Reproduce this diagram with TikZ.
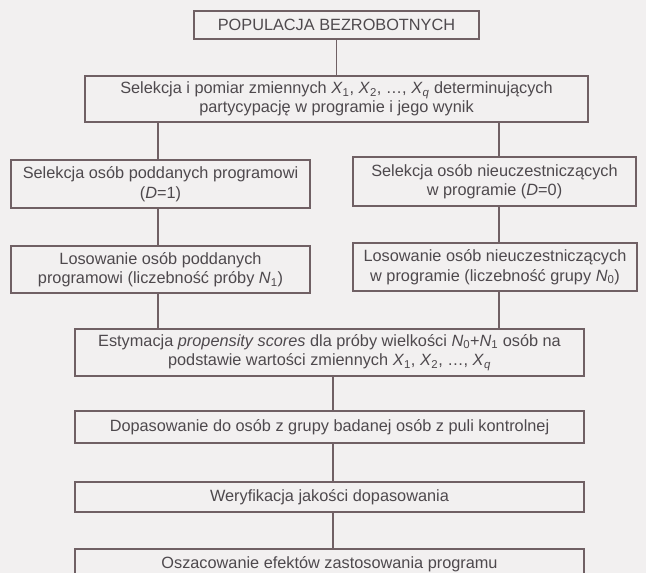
\documentclass[tikz,border=0pt]{standalone}
\usepackage{fontspec}
\setmainfont{Liberation Sans}
\usetikzlibrary{positioning}

\newcommand{\subvar}[2]{\textit{#1}\textsubscript{#2}}

\begin{document}
\begin{tikzpicture}[x=1pt, y=-1pt,
        every node/.style={font=\fontsize{16.3}{19.5}\selectfont},
        box/.style={draw=flowline, line width=1.1pt, text=flowtext, align=center, inner sep=0pt},
        link/.style={draw=flowline, line width=1.1pt}]
        \definecolor{paper}{RGB}{242,240,240}
        \definecolor{flowline}{RGB}{112,96,100}
        \definecolor{flowtext}{RGB}{78,73,77}

        % Page background, cut at the lower edge
        \useasboundingbox (0,0) rectangle (646,573);
        \fill[paper] (0,0) rectangle (646,573);
        \clip (0,0) rectangle (646,573);

        % Top of the chart
        \node[box, minimum width=285pt, minimum height=28pt] (pop) at (336.5,25) {POPULACJA BEZROBOTNYCH};
        \node[box, minimum width=503pt, minimum height=46pt] (sel) at (336.5,99) {Selekcja i pomiar zmiennych \subvar{X}{1}, \subvar{X}{2}, \dots, \subvar{X}{\textit{q}} determinujących\\partycypację w programie i jego wynik};

        % Two branches
        \node[box, minimum width=299pt, minimum height=48pt] (selA) at (160.5,184) {Selekcja osób poddanych programowi\\(\textit{D}=1)};
        \node[box, minimum width=283pt, minimum height=49pt] (selB) at (494.5,181.5) {Selekcja osób nieuczestniczących\\w programie (\textit{D}=0)};
        \node[box, minimum width=299pt, minimum height=47pt] (losA) at (160.5,269.5) {Losowanie osób poddanych\\programowi (liczebność próby \subvar{N}{1})};
        \node[box, minimum width=284pt, minimum height=48pt] (losB) at (495,267) {Losowanie osób nieuczestniczących\\w programie (liczebność grupy \subvar{N}{0})};

        % Common steps
        \node[box, minimum width=509pt, minimum height=47pt] (est) at (329.5,352.5) {Estymacja \textit{propensity scores} dla próby wielkości \subvar{N}{0}+\subvar{N}{1} osób na\\podstawie wartości zmiennych \subvar{X}{1}, \subvar{X}{2}, \dots, \subvar{X}{\textit{q}}};
        \node[box, minimum width=509pt, minimum height=32pt] (dop) at (329.5,427) {Dopasowanie do osób z grupy badanej osób z puli kontrolnej};
        \node[box, minimum width=509pt, minimum height=30pt] (wer) at (329.5,497) {Weryfikacja jakości dopasowania};
        \node[box, minimum width=509pt, minimum height=30pt] (osz) at (329.5,564) {Oszacowanie efektów zastosowania programu};

        % Connectors
        \draw[link] (pop) -- (sel);
        \draw[link] ([xshift=-2.5pt]selA.north |- sel.south) -- ([xshift=-2.5pt]selA.north);
        \draw[link] ([xshift=4.5pt]selB.north |- sel.south) -- ([xshift=4.5pt]selB.north);
        \draw[link] ([xshift=-2.5pt]selA.south) -- ([xshift=-2.5pt]losA.north);
        \draw[link] ([xshift=4.5pt]selB.south) -- ([xshift=4.5pt]selB.south |- losB.north);
        \draw[link] ([xshift=-2.5pt]losA.south) -- ([xshift=-2.5pt]losA.south |- est.north);
        \draw[link] ([xshift=4pt]losB.south) -- ([xshift=4pt]losB.south |- est.north);
        \draw[link] ([xshift=3.5pt]est.south) -- ([xshift=3.5pt]dop.north);
        \draw[link] ([xshift=3.5pt]dop.south) -- ([xshift=3.5pt]wer.north);
        \draw[link] ([xshift=3.5pt]wer.south) -- ([xshift=3.5pt]osz.north);
    \end{tikzpicture}
\end{document}
